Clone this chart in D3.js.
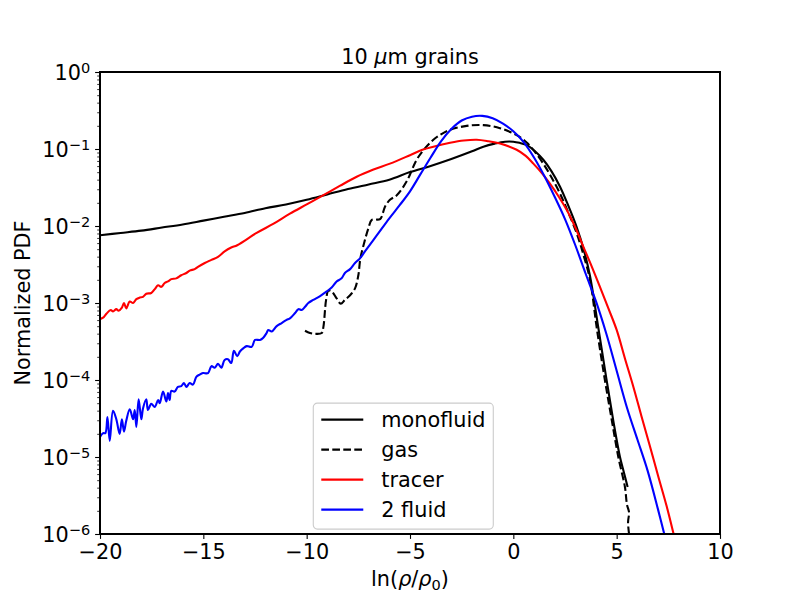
<!DOCTYPE html>
<html>
<head>
<meta charset="utf-8">
<script src="https://cdn.jsdelivr.net/npm/d3@7"></script>
<style>
    body { margin: 0; background: #fff; }
    svg { font-family: "DejaVu Sans", sans-serif; }
</style>
</head>
<body>
<svg id="chart" width="800" height="600"></svg>
<script>
// Series values as [ln(rho/rho0), log10(PDF)]
const monofluid = [
    [-20, -2.12], [-19, -2.09], [-18, -2.06], [-17, -2.02], [-16, -1.98], [-15, -1.93],
    [-14, -1.88], [-13, -1.83], [-12, -1.77], [-11, -1.72], [-10, -1.66], [-9, -1.59],
    [-8, -1.52], [-7, -1.46], [-6, -1.40], [-5, -1.30], [-4, -1.22], [-3, -1.13],
    [-2, -1.03], [-1.45, -0.97], [-0.9, -0.93], [-0.4, -0.905], [0, -0.905], [0.3, -0.92],
    [0.66, -0.95], [1.05, -1.03], [1.45, -1.14], [1.85, -1.29], [2.26, -1.49], [2.65, -1.73],
    [3.06, -2.01], [3.4, -2.30], [3.71, -2.65], [4.1, -3.3], [4.5, -3.98], [4.85, -4.55],
    [5.16, -5.0], [5.35, -5.2], [5.53, -5.39]
];

const gas = [
    [-10.08, -3.36], [-9.84, -3.39], [-9.6, -3.40], [-9.27, -3.39], [-9.19, -3.31],
    [-9.06, -2.96], [-8.95, -2.84], [-8.79, -2.85], [-8.55, -2.94], [-8.35, -3.01],
    [-8.15, -2.96], [-7.9, -2.90], [-7.66, -2.81], [-7.5, -2.64], [-7.4, -2.42],
    [-7.2, -2.2], [-7.0, -2.02], [-6.85, -1.92], [-6.45, -1.91], [-6.21, -1.75],
    [-5.97, -1.66], [-5.64, -1.60], [-5.16, -1.42], [-4.68, -1.14], [-4.3, -1.0],
    [-3.87, -0.88], [-3.5, -0.81], [-3.06, -0.75], [-2.26, -0.70], [-1.45, -0.69],
    [-0.645, -0.73], [0.16, -0.82], [0.66, -0.92], [1.05, -1.04], [1.45, -1.19],
    [1.85, -1.37], [2.26, -1.58], [2.65, -1.82], [3.06, -2.09], [3.4, -2.38],
    [3.71, -2.70], [4.05, -3.35], [4.43, -4.0], [4.75, -4.5], [5.08, -5.0],
    [5.4, -5.39], [5.5, -5.62], [5.6, -5.72], [5.55, -5.85], [5.65, -6.1]
];

const tracer = [
    [-20, -3.21], [-19.85, -3.19], [-19.69, -3.14], [-19.48, -3.09], [-19.37, -3.11],
    [-19.21, -3.08], [-19.1, -3.10], [-18.94, -3.06], [-18.84, -3.00], [-18.73, -3.07],
    [-18.56, -2.98], [-18.4, -3.00], [-18.24, -2.95], [-18.08, -2.93], [-17.92, -2.92],
    [-17.76, -2.88], [-17.52, -2.87], [-17.35, -2.82], [-17.19, -2.77], [-17.03, -2.79],
    [-16.87, -2.74], [-16.71, -2.72], [-16.55, -2.69], [-16.31, -2.68], [-16.07, -2.64],
    [-15.82, -2.61], [-15.66, -2.58], [-15.42, -2.56], [-15.26, -2.53], [-14.93, -2.48],
    [-14.61, -2.44], [-14.29, -2.40], [-13.97, -2.33], [-13.65, -2.28], [-13.36, -2.25],
    [-12.42, -2.09], [-11.6, -1.97], [-10.81, -1.84], [-10, -1.72], [-9.19, -1.60],
    [-8.4, -1.48], [-7.58, -1.36], [-6.8, -1.27], [-5.97, -1.19], [-5.0, -1.08],
    [-4.4, -1.01], [-3.87, -0.97], [-3.06, -0.92], [-2.4, -0.89], [-1.77, -0.88],
    [-1.2, -0.90], [-0.645, -0.93], [0.16, -1.01], [0.6, -1.09], [0.97, -1.19],
    [1.4, -1.32], [1.77, -1.45], [2.2, -1.62], [2.58, -1.79], [3.0, -2.02],
    [3.39, -2.27], [3.8, -2.53], [4.19, -2.79], [4.6, -3.07], [5.0, -3.35],
    [5.4, -3.72], [5.81, -4.09], [6.2, -4.47], [6.61, -4.86], [7.0, -5.24],
    [7.42, -5.64], [7.71, -5.95], [7.8, -6.05]
];

const twoFluid = [
    [-20, -4.74], [-19.85, -4.69], [-19.74, -4.69], [-19.64, -4.48], [-19.53, -4.79],
    [-19.37, -4.40], [-19.21, -4.51], [-19.05, -4.70], [-18.94, -4.51], [-18.84, -4.67],
    [-18.73, -4.53], [-18.56, -4.38], [-18.4, -4.51], [-18.32, -4.39], [-18.24, -4.61],
    [-18.13, -4.25], [-18.0, -4.51], [-17.92, -4.37], [-17.76, -4.25], [-17.68, -4.39],
    [-17.52, -4.31], [-17.35, -4.35], [-17.19, -4.26], [-17.11, -4.30], [-16.95, -4.15],
    [-16.79, -4.28], [-16.71, -4.17], [-16.63, -4.26], [-16.55, -4.14], [-16.39, -4.15],
    [-16.23, -4.09], [-16.07, -4.08], [-15.94, -4.04], [-15.82, -4.09], [-15.66, -4.04],
    [-15.5, -4.06], [-15.34, -3.96], [-15.18, -3.93], [-15.02, -3.91], [-14.77, -3.91],
    [-14.61, -3.82], [-14.45, -3.84], [-14.29, -3.79], [-14.13, -3.84], [-13.97, -3.74],
    [-13.81, -3.73], [-13.65, -3.78], [-13.52, -3.62], [-13.36, -3.69], [-13.23, -3.63],
    [-13.07, -3.59], [-12.9, -3.56], [-12.66, -3.57], [-12.5, -3.48], [-12.26, -3.48],
    [-12.1, -3.45], [-11.94, -3.39], [-11.86, -3.35], [-11.69, -3.37], [-11.45, -3.30],
    [-11.21, -3.26], [-10.97, -3.22], [-10.81, -3.20], [-10.56, -3.13], [-10.4, -3.08],
    [-10.24, -3.09], [-10.08, -3.05], [-9.92, -3.00], [-9.68, -2.96], [-9.35, -2.91],
    [-9.03, -2.85], [-8.79, -2.80], [-8.55, -2.72], [-8.31, -2.68], [-8.15, -2.61],
    [-7.9, -2.56], [-7.66, -2.48], [-7.42, -2.42], [-7.18, -2.33], [-6.6, -2.12],
    [-6.0, -1.90], [-5.5, -1.73], [-5.0, -1.55], [-4.5, -1.33], [-4.0, -1.11],
    [-3.5, -0.90], [-3.0, -0.74], [-2.5, -0.63], [-2.0, -0.58], [-1.5, -0.57],
    [-1.0, -0.60], [-0.5, -0.67], [0, -0.77], [0.5, -0.91], [1.0, -1.11],
    [1.5, -1.35], [2.0, -1.62], [2.5, -1.91], [3.0, -2.25], [3.5, -2.62],
    [4.0, -2.98], [4.5, -3.40], [5.0, -3.88], [5.5, -4.36], [6.0, -4.77],
    [6.5, -5.18], [7.0, -5.68], [7.35, -6.05]
];

const xTicks = [-20, -15, -10, -5, 0, 5, 10];
const yExponents = [0, -1, -2, -3, -4, -5, -6];
const legendLabels = ['monofluid', 'gas', 'tracer', '2 fluid'];

// Layout
const margin = { left: 100, top: 72, right: 80, bottom: 66 };
const width = 800 - margin.left - margin.right;
const height = 600 - margin.top - margin.bottom;
const fontSize = 20.8;

const svg = d3.select('#chart');
const g = svg.append('g').attr('transform', `translate(${margin.left},${margin.top})`);

const x = d3.scaleLinear().domain([-20, 10]).range([0, width]);
const y = d3.scaleLog().domain([1e-6, 1]).range([height, 0]);

const fmtMinus = v => (v < 0 ? '\u2212' + Math.abs(v) : String(v));

// Clip to axes area
svg.append('defs').append('clipPath').attr('id', 'plot-clip')
    .append('rect').attr('width', width).attr('height', height);

// Series
const line = d3.line()
    .curve(d3.curveCatmullRom.alpha(0.5))
    .x(d => x(d[0]))
    .y(d => y(Math.pow(10, d[1])));

const series = [
    { data: monofluid, color: '#000000', dash: null },
    { data: gas, color: '#000000', dash: '7.7,3.3' },
    { data: tracer, color: '#ff0000', dash: null },
    { data: twoFluid, color: '#0000ff', dash: null }
];

const plot = g.append('g').attr('clip-path', 'url(#plot-clip)');
series.forEach(s => {
    plot.append('path')
        .datum(s.data)
        .attr('d', line)
        .attr('fill', 'none')
        .attr('stroke', s.color)
        .attr('stroke-width', 2.1)
        .attr('stroke-linejoin', 'round')
        .attr('stroke-dasharray', s.dash);
});

// X axis
const xAxis = g.append('g')
    .attr('transform', `translate(0,${height})`)
    .call(d3.axisBottom(x).tickValues(xTicks).tickFormat(fmtMinus).tickSize(4.9).tickPadding(4.9));
xAxis.select('.domain').remove();
xAxis.selectAll('line').attr('stroke-width', 1.1);
xAxis.selectAll('text').attr('font-size', fontSize).attr('font-family', 'DejaVu Sans').attr('fill', '#000');

// Y axis, major ticks with superscript labels
const yMajor = yExponents.map(e => Math.pow(10, e));
const yAxis = g.append('g')
    .call(d3.axisLeft(y).tickValues(yMajor).tickFormat('').tickSize(4.9).tickPadding(4.9));
yAxis.select('.domain').remove();
yAxis.selectAll('line').attr('stroke-width', 1.1);
yAxis.selectAll('.tick text').each(function(d) {
    const e = Math.round(Math.log10(d));
    const t = d3.select(this)
        .attr('font-size', fontSize)
        .attr('font-family', 'DejaVu Sans')
        .attr('fill', '#000')
        .attr('dy', '0.36em');
    t.append('tspan').text('10');
    t.append('tspan')
        .attr('dy', '-0.45em')
        .attr('font-size', fontSize * 0.7)
        .text(fmtMinus(e));
});

// Y axis minor ticks
const yMinor = [];
for (let e = -6; e < 0; e++) {
    for (let k = 2; k <= 9; k++) yMinor.push(k * Math.pow(10, e));
}
const yMinorAxis = g.append('g')
    .call(d3.axisLeft(y).tickValues(yMinor).tickFormat('').tickSize(2.8));
yMinorAxis.select('.domain').remove();
yMinorAxis.selectAll('line').attr('stroke-width', 0.8);

// Frame
g.append('rect')
    .attr('width', width)
    .attr('height', height)
    .attr('fill', 'none')
    .attr('stroke', '#000')
    .attr('stroke-width', 2);

// Title
const title = svg.append('text')
    .attr('x', margin.left + width / 2)
    .attr('y', margin.top - 8)
    .attr('text-anchor', 'middle')
    .attr('font-size', fontSize);
title.append('tspan').text('10 ');
title.append('tspan').attr('font-style', 'italic').text('\u03bc');
title.append('tspan').text('m grains');

// X label
const xLabel = svg.append('text')
    .attr('x', margin.left + width / 2)
    .attr('y', 586)
    .attr('text-anchor', 'middle')
    .attr('font-size', fontSize);
xLabel.append('tspan').text('ln(');
xLabel.append('tspan').attr('font-style', 'italic').text('\u03c1');
xLabel.append('tspan').text('/');
xLabel.append('tspan').attr('font-style', 'italic').text('\u03c1');
xLabel.append('tspan').attr('dy', '0.25em').attr('font-size', fontSize * 0.7).text('0');
xLabel.append('tspan').attr('dy', '-0.18em').text(')');

// Y label
svg.append('text')
    .attr('transform', `translate(30,${margin.top + height / 2}) rotate(-90)`)
    .attr('text-anchor', 'middle')
    .attr('font-size', fontSize)
    .text('Normalized PDF');

// Legend
const legend = g.append('g').attr('transform', `translate(${x(-9.68)},${y(Math.pow(10, -4.3))})`);
legend.append('rect')
    .attr('width', 180)
    .attr('height', 126)
    .attr('rx', 4)
    .attr('fill', '#fff')
    .attr('fill-opacity', 0.8)
    .attr('stroke', '#cccccc')
    .attr('stroke-width', 1.1);

legendLabels.forEach((label, i) => {
    const s = series[i];
    const row = legend.append('g').attr('transform', `translate(0,${16.5 + i * 30})`);
    row.append('line')
        .attr('x1', 8).attr('x2', 50)
        .attr('stroke', s.color)
        .attr('stroke-width', 2.1)
        .attr('stroke-dasharray', s.dash);
    row.append('text')
        .attr('x', 68)
        .attr('dy', '0.36em')
        .attr('font-size', fontSize)
        .text(label);
});
</script>
</body>
</html>
